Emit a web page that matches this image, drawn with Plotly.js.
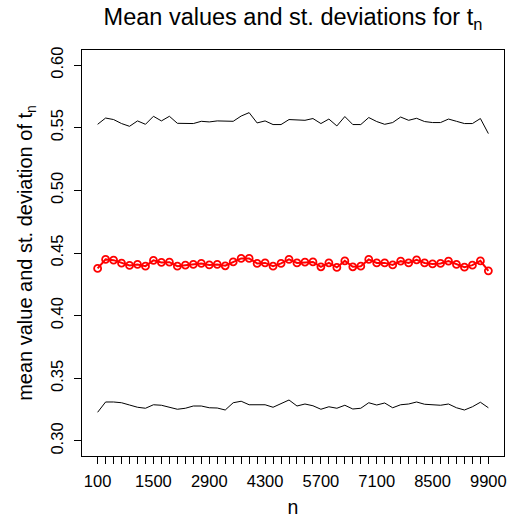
<!DOCTYPE html>
<html>
<head>
<meta charset="utf-8">
<script src="https://cdn.plot.ly/plotly-3.0.1.min.js"></script>
<style>html,body{margin:0;padding:0;background:#fff;}#chart{width:514px;height:519px;}</style>
</head>
<body>
<div id="chart"></div>
<script>
// n values (every 200 from 100 to 9900)
const nValues = [100,300,500,700,900,1100,1300,1500,1700,1900,2100,2300,2500,2700,2900,3100,3300,3500,3700,3900,4100,4300,4500,4700,4900,5100,5300,5500,5700,5900,6100,6300,6500,6700,6900,7100,7300,7500,7700,7900,8100,8300,8500,8700,8900,9100,9300,9500,9700,9900];

// mean values of t_n (red)
const meanValues = [0.4377,0.4449,0.4443,0.4419,0.4401,0.4409,0.4395,0.4441,0.4425,0.4427,
                    0.4395,0.4403,0.4409,0.4417,0.4405,0.4409,0.4398,0.4429,0.4457,0.4457,
                    0.4417,0.4421,0.4395,0.4417,0.4449,0.4421,0.4427,0.4429,0.4390,0.4421,
                    0.4385,0.4437,0.4390,0.4395,0.4449,0.4421,0.4421,0.4405,0.4435,0.4421,
                    0.4445,0.4421,0.4413,0.4417,0.4435,0.4409,0.4387,0.4403,0.4437,0.4358];

// upper band (mean + st. deviation)
const upperValues = [0.5527,0.5577,0.5565,0.5533,0.5511,0.5554,0.5527,0.5591,0.5554,0.5591,
                     0.5535,0.5535,0.5533,0.5551,0.5546,0.5554,0.5554,0.5551,0.5593,0.5620,
                     0.5538,0.5554,0.5525,0.5525,0.5565,0.5565,0.5559,0.5573,0.5533,0.5569,
                     0.5514,0.5589,0.5525,0.5525,0.5581,0.5549,0.5527,0.5541,0.5585,0.5559,
                     0.5575,0.5549,0.5541,0.5541,0.5569,0.5551,0.5533,0.5533,0.5573,0.5453];

// lower band (mean - st. deviation)
const lowerValues = [0.3229,0.3311,0.3311,0.3305,0.3287,0.3269,0.3261,0.3289,0.3285,0.3269,
                     0.3253,0.3261,0.3279,0.3279,0.3265,0.3263,0.3247,0.3305,0.3317,0.3289,
                     0.3289,0.3289,0.3269,0.3301,0.3327,0.3279,0.3295,0.3281,0.3253,0.3273,
                     0.3261,0.3285,0.3255,0.3261,0.3305,0.3287,0.3303,0.3265,0.3289,0.3295,
                     0.3311,0.3293,0.3287,0.3285,0.3295,0.3265,0.3247,0.3273,0.3309,0.3265];

// labelled x ticks
const xTickValues = [100,1500,2900,4300,5700,7100,8500,9900];
const xTickLabels = ["100","1500","2900","4300","5700","7100","8500","9900"];
const yTickValues = [0.30,0.35,0.40,0.45,0.50,0.55,0.60];
const yTickLabels = ["0.30","0.35","0.40","0.45","0.50","0.55","0.60"];

const FONT = "Liberation Sans, Arial, Helvetica, sans-serif";

const traces = [
  {x: nValues, y: upperValues, type: "scatter", mode: "lines",
   line: {color: "#000000", width: 1}, hoverinfo: "skip", showlegend: false},
  {x: nValues, y: lowerValues, type: "scatter", mode: "lines",
   line: {color: "#000000", width: 1}, hoverinfo: "skip", showlegend: false},
  {x: nValues, y: meanValues, type: "scatter", mode: "lines+markers",
   line: {color: "#ff0000", width: 2},
   marker: {symbol: "circle-open", size: 7, color: "#ff0000", line: {color: "#ff0000", width: 1.8}},
   hoverinfo: "skip", showlegend: false}
];

const layout = {
  width: 514, height: 519,
  margin: {l: 82, r: 10, t: 50, b: 63, pad: 0},
  paper_bgcolor: "#ffffff", plot_bgcolor: "#ffffff",
  font: {family: FONT, color: "#000000", size: 16},
  title: {text: "Mean values and st. deviations for t<sub>n</sub>",
          font: {family: FONT, size: 23.5, color: "#000000"},
          x: 0.5, xref: "paper", xanchor: "center",
          y: 0.968, yref: "container", yanchor: "middle"},
  xaxis: {
    range: [-292, 10292], autorange: false,
    tickmode: "array", tickvals: xTickValues, ticktext: xTickLabels,
    ticks: "outside", ticklen: 7, tickwidth: 1, tickcolor: "#000000",
    minor: {tickmode: "array", tickvals: nValues, ticks: "outside", ticklen: 7,
            tickwidth: 1, tickcolor: "#000000", showgrid: false},
    showgrid: false, zeroline: false,
    showline: true, linecolor: "#000000", linewidth: 1, mirror: true,
    tickfont: {family: FONT, size: 16.5, color: "#000000"},
    ticklabelstandoff: 3,
    title: {text: "n", font: {family: FONT, size: 19.5, color: "#000000"}, standoff: 11}
  },
  yaxis: {
    range: [0.288, 0.612], autorange: false,
    tickmode: "array", tickvals: yTickValues, ticktext: yTickLabels,
    tickangle: -90,
    ticks: "outside", ticklen: 7, tickwidth: 1, tickcolor: "#000000",
    showgrid: false, zeroline: false,
    showline: true, linecolor: "#000000", linewidth: 1, mirror: true,
    tickfont: {family: FONT, size: 16.5, color: "#000000"},
    ticklabelstandoff: 4,
    title: {text: "mean value and st. deviation of t<sub>n</sub>",
            font: {family: FONT, size: 20, color: "#000000"}, standoff: 10}
  }
};

Plotly.newPlot("chart", traces, layout, {staticPlot: true, displayModeBar: false});
</script>
</body>
</html>
